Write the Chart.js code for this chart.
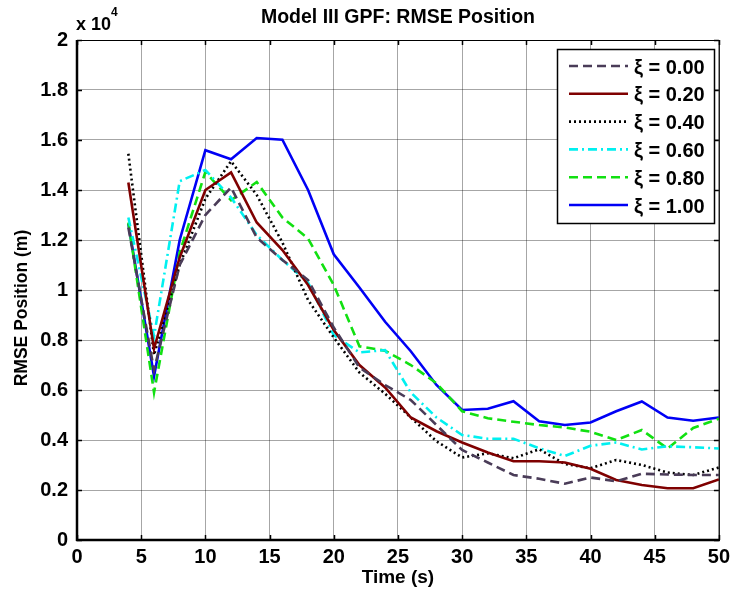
<!DOCTYPE html>
<html>
<head>
<meta charset="utf-8">
<script src="https://cdn.jsdelivr.net/npm/chart.js@4.4.0/dist/chart.umd.min.js"></script>
<style>
  html, body { margin: 0; padding: 0; background: #fff; }
</style>
</head>
<body>
<canvas id="chart" width="735" height="598"></canvas>
<script>
// time axis (s) and RMSE values, in units of 10^4 m
const time = [4, 6, 8, 10, 12, 14, 16, 18, 20, 22, 24, 26, 28, 30, 32, 34, 36, 38, 40, 42, 44, 46, 48, 50];
const xi000 = [1.25, 0.68, 1.10, 1.30, 1.41, 1.21, 1.12, 1.04, 0.85, 0.69, 0.62, 0.56, 0.46, 0.36, 0.31, 0.26, 0.245, 0.225, 0.25, 0.235, 0.265, 0.262, 0.26, 0.26];
const xi020 = [1.43, 0.765, 1.13, 1.40, 1.47, 1.27, 1.16, 1.02, 0.84, 0.70, 0.61, 0.49, 0.435, 0.39, 0.35, 0.315, 0.315, 0.31, 0.285, 0.24, 0.22, 0.207, 0.207, 0.242];
const xi040 = [1.545, 0.74, 1.10, 1.365, 1.515, 1.38, 1.19, 0.96, 0.81, 0.67, 0.585, 0.49, 0.395, 0.33, 0.347, 0.327, 0.363, 0.304, 0.287, 0.32, 0.30, 0.27, 0.26, 0.29];
const xi060 = [1.29, 0.815, 1.435, 1.48, 1.37, 1.22, 1.12, 1.03, 0.82, 0.75, 0.76, 0.59, 0.49, 0.42, 0.405, 0.405, 0.367, 0.336, 0.377, 0.39, 0.362, 0.375, 0.371, 0.366];
const xi080 = [1.27, 0.59, 1.15, 1.472, 1.359, 1.432, 1.29, 1.206, 1.02, 0.775, 0.757, 0.70, 0.627, 0.515, 0.487, 0.473, 0.46, 0.45, 0.433, 0.40, 0.44, 0.366, 0.448, 0.485];
const xi100 = [1.265, 0.655, 1.20, 1.559, 1.523, 1.608, 1.601, 1.40, 1.143, 1.01, 0.873, 0.755, 0.62, 0.52, 0.525, 0.555, 0.475, 0.46, 0.47, 0.515, 0.554, 0.49, 0.477, 0.49];

const seriesLabels = ['ξ = 0.00', 'ξ = 0.20', 'ξ = 0.40', 'ξ = 0.60', 'ξ = 0.80', 'ξ = 1.00'];
const xTicks = [0, 5, 10, 15, 20, 25, 30, 35, 40, 45, 50];
const yTicks = [0, 0.2, 0.4, 0.6, 0.8, 1, 1.2, 1.4, 1.6, 1.8, 2];

const FONT = "'Liberation Sans', Arial, sans-serif";

const styles = [
  { color: '#4a3c58', dash: [9, 5] },
  { color: '#7f0000', dash: [] },
  { color: '#000000', dash: [2, 3] },
  { color: '#00f0f0', dash: [9, 4, 2, 4] },
  { color: '#11e011', dash: [9, 5] },
  { color: '#0000f5', dash: [] }
];

const values = [xi000, xi020, xi040, xi060, xi080, xi100];
const datasets = values.map((v, i) => ({
  label: seriesLabels[i],
  data: time.map((t, j) => ({ x: t, y: v[j] })),
  borderColor: styles[i].color,
  borderDash: styles[i].dash,
  borderWidth: 2.6,
  pointRadius: 0,
  tension: 0,
  fill: false
}));

// axis box, inward ticks, titles and legend (matlab look)
const matlabFrame = {
  id: 'matlabFrame',
  afterDraw(chart) {
    const { ctx, chartArea: a, scales } = chart;
    ctx.save();
    const seg = (x1, y1, x2, y2) => { ctx.beginPath(); ctx.moveTo(x1, y1); ctx.lineTo(x2, y2); ctx.stroke(); };

    ctx.strokeStyle = '#000';
    ctx.lineWidth = 1.5;
    xTicks.forEach(t => {
      const px = Math.round(scales.x.getPixelForValue(t)) + 0.5;
      seg(px, a.bottom, px, a.bottom - 5);
      seg(px, a.top, px, a.top + 5);
    });
    yTicks.forEach(t => {
      const py = Math.round(scales.y.getPixelForValue(t)) + 0.5;
      seg(a.left, py, a.left + 5, py);
      seg(a.right, py, a.right - 5, py);
    });

    ctx.lineWidth = 1;
    ctx.strokeRect(a.left + 0.5, a.top + 0.5, a.right - a.left, a.bottom - a.top);
    ctx.lineWidth = 2.5;
    seg(a.left, a.top, a.left, a.bottom + 1);
    seg(a.left - 1, a.bottom, a.right + 1, a.bottom);

    // texts
    ctx.fillStyle = '#000';
    ctx.textBaseline = 'middle';
    ctx.textAlign = 'center';
    ctx.font = 'bold 19.5px ' + FONT;
    ctx.fillText('Model III GPF: RMSE Position', (a.left + a.right) / 2, 18);
    ctx.font = 'bold 19px ' + FONT;
    ctx.fillText('Time (s)', (a.left + a.right) / 2, 578);

    ctx.save();
    ctx.translate(22, 308);
    ctx.rotate(-Math.PI / 2);
    ctx.font = 'bold 17.5px ' + FONT;
    ctx.fillText('RMSE Position (m)', 0, 0);
    ctx.restore();

    ctx.textAlign = 'left';
    ctx.font = 'bold 18px ' + FONT;
    ctx.fillText('x 10', 76, 25);
    ctx.font = 'bold 12px ' + FONT;
    ctx.fillText('4', 111, 13);

    // legend
    const lx = 557, ly = 49, lw = 157, lh = 174;
    ctx.fillStyle = '#fff';
    ctx.fillRect(lx, ly, lw, lh);
    ctx.strokeStyle = '#000';
    ctx.lineWidth = 1.5;
    ctx.strokeRect(lx + 0.5, ly + 0.5, lw, lh);
    ctx.font = 'bold 20px ' + FONT;
    ctx.fillStyle = '#000';
    seriesLabels.forEach((lab, i) => {
      const y = 66 + i * 27.8;
      ctx.strokeStyle = styles[i].color;
      ctx.setLineDash(styles[i].dash);
      ctx.lineWidth = 2.6;
      seg(569, y, 628, y);
      ctx.setLineDash([]);
      ctx.fillText(lab, 634, y + 2);
    });
    ctx.restore();
  }
};

new Chart(document.getElementById('chart'), {
  type: 'line',
  data: { datasets: datasets },
  options: {
    responsive: false,
    animation: false,
    devicePixelRatio: 1,
    layout: { padding: { left: 0, right: 13, top: 40, bottom: 0 } },
    plugins: { legend: { display: false }, tooltip: { enabled: false } },
    scales: {
      x: {
        type: 'linear',
        min: 0,
        max: 50,
        afterFit: s => { s.height = 58; },
        afterBuildTicks: s => { s.ticks = xTicks.map(v => ({ value: v })); },
        grid: { color: 'rgba(0,0,0,0.35)', lineWidth: 1, drawTicks: false },
        border: { display: false },
        ticks: {
          padding: 5,
          color: '#000',
          font: { family: FONT, size: 20, weight: 'bold' },
          maxRotation: 0,
          callback: v => String(v)
        }
      },
      y: {
        min: 0,
        max: 2,
        afterFit: s => { s.width = 77; },
        afterBuildTicks: s => { s.ticks = yTicks.map(v => ({ value: v })); },
        grid: { color: 'rgba(0,0,0,0.35)', lineWidth: 1, drawTicks: false },
        border: { display: false },
        ticks: {
          padding: 9,
          color: '#000',
          font: { family: FONT, size: 20, weight: 'bold' },
          callback: v => String(Number(v.toFixed(1)))
        }
      }
    }
  },
  plugins: [matlabFrame]
});
</script>
</body>
</html>
